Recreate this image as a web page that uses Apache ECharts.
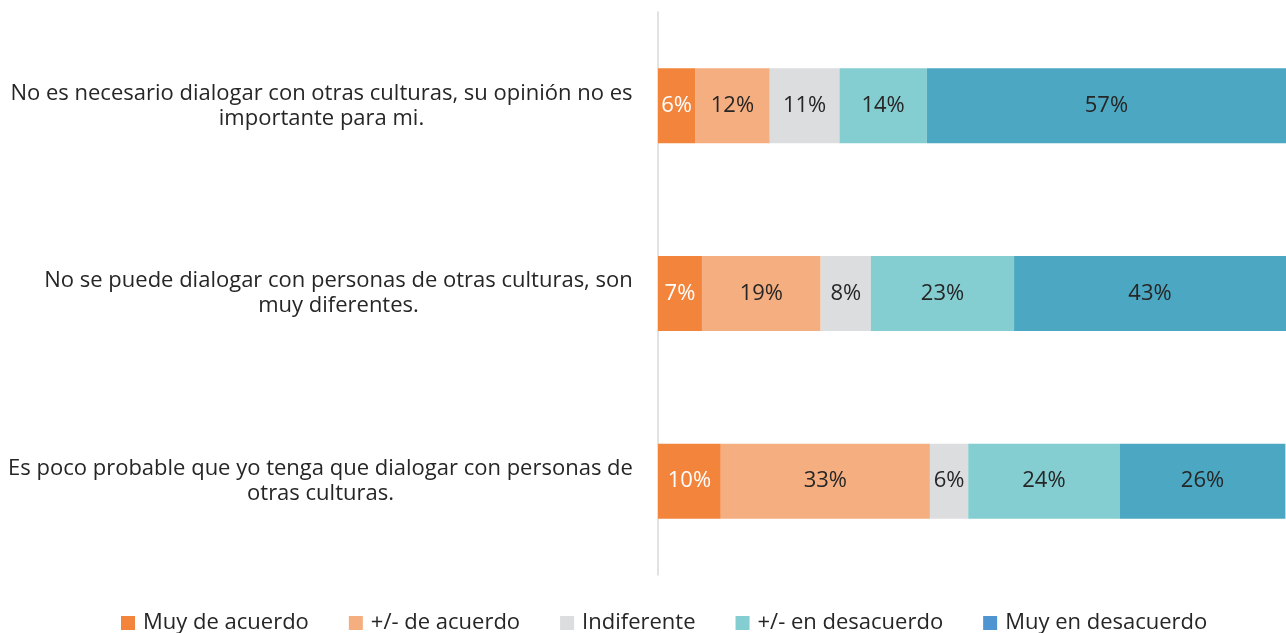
<!DOCTYPE html>
<html>
<head>
<meta charset="utf-8">
<script src="https://cdn.jsdelivr.net/npm/echarts@6/dist/echarts.min.js"></script>
<style>
  html, body { margin: 0; padding: 0; background: #fff; }
  #chart { width: 1286px; height: 633px; }
</style>
</head>
<body>
<div id="chart"></div>
<script>
// categories (top to bottom), each split into its two printed lines
var categories = [
  ['No es necesario dialogar con otras culturas, su opinión no es', 'importante para mi.'],
  ['No se puede dialogar con personas de otras culturas, son', 'muy diferentes.'],
  ['Es poco probable que yo tenga que dialogar con personas de', 'otras culturas.']
];
var seriesNames = ['Muy de acuerdo', '+/- de acuerdo', 'Indiferente', '+/- en desacuerdo', 'Muy en desacuerdo'];
// shares; labels show them rounded
var muyDeAcuerdo = [5.9, 7.0, 10.0];
var masMenosDeAcuerdo = [11.9, 18.9, 33.3];
var indiferente = [11.1, 8.0, 6.1];
var masMenosEnDesacuerdo = [13.9, 22.8, 24.1];
var muyEnDesacuerdo = [57.2, 43.3, 26.4];

var values = [muyDeAcuerdo, masMenosDeAcuerdo, indiferente, masMenosEnDesacuerdo, muyEnDesacuerdo];
var colors = ['#F2843C', '#F5AE80', '#DCDDDF', '#84CDD0', '#4BA7C2'];
var legendColors = ['#F2843C', '#F5AE80', '#DCDDDF', '#84CDD0', '#4F95D1'];
var labelColors = ['#ffffff', '#262626', '#262626', '#262626', '#262626'];

var FONT = 'Open Sans';
var FS = 22;

// width of each label block = width of its longest line, so lines are centred inside it
var cv = document.createElement('canvas').getContext('2d');
cv.font = FS + 'px "' + FONT + '"';
var rich = {};
categories.forEach(function (lines, i) {
  var w = 0;
  lines.forEach(function (l) { w = Math.max(w, cv.measureText(l).width); });
  rich['c' + i] = { width: Math.ceil(w) + 2, align: 'center', fontFamily: FONT, fontSize: FS, color: '#262626', lineHeight: 25 };
});

var myChart = echarts.init(document.getElementById('chart'));

var series = seriesNames.map(function (name, k) {
  return {
    name: name,
    type: 'bar',
    stack: 'total',
    barWidth: '40%',
    itemStyle: { color: colors[k] },
    label: {
      show: true,
      position: 'inside',
      color: labelColors[k],
      fontFamily: FONT,
      fontSize: FS,
      formatter: function (p) { return Math.round(p.value) + '%'; }
    },
    emphasis: { disabled: true },
    data: values[k]
  };
});

myChart.setOption({
  animation: false,
  textStyle: { fontFamily: FONT },
  grid: { left: 658, top: 12, width: 640, height: 563 },
  xAxis: {
    type: 'value',
    min: 0,
    max: 100,
    show: false
  },
  yAxis: {
    type: 'category',
    inverse: true,
    data: categories.map(function (c, i) { return String(i); }),
    axisLine: { lineStyle: { color: '#D9D9D9', width: 1.5 } },
    axisTick: { show: false },
    axisLabel: {
      margin: 24,
      align: 'right',
      formatter: function (v) {
        var i = +v;
        return categories[i].map(function (l) { return '{c' + i + '|' + l + '}'; }).join('\n');
      },
      rich: rich
    }
  },
  legend: {
    bottom: -6,
    left: 116,
    itemWidth: 14,
    itemHeight: 14,
    itemGap: 40,
    icon: 'rect',
    textStyle: { fontFamily: FONT, fontSize: FS, color: '#262626', padding: [0, 0, 0, 3] },
    data: seriesNames.map(function (n, k) {
      return { name: n, itemStyle: { color: legendColors[k] } };
    })
  },
  series: series
});
</script>
</body>
</html>
